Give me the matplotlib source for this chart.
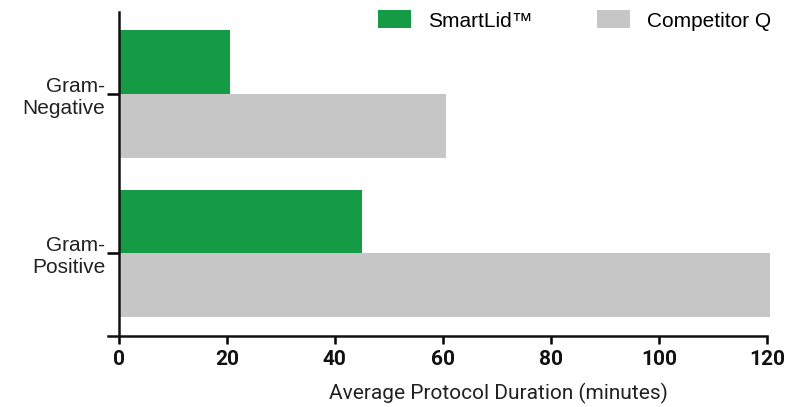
import matplotlib.pyplot as plt
import numpy as np

# data
categories = ['Gram-\nNegative', 'Gram-\nPositive']
smartlid = [20.5, 45]
competitor = [60.5, 120.5]
series_names = ['SmartLid\u2122', 'Competitor Q']
xticks = [0, 20, 40, 60, 80, 100, 120]

green = '#159A46'
grey = '#C6C6C6'

fig = plt.figure(figsize=(7.89, 4.07), dpi=100)
ax = fig.add_axes([0.137, 0.174, 0.835, 0.797])

pos = np.arange(len(categories))
bar_h = 0.4
ax.barh(pos - bar_h / 2, smartlid, height=bar_h, color=green, label=series_names[0], clip_on=False)
ax.barh(pos + bar_h / 2, competitor, height=bar_h, color=grey, label=series_names[1], clip_on=False)

ax.set_xlim(-2, 120)
ax.set_ylim(1.52, -0.515)

# spines: left axis sits at x=0, x axis runs a bit past it
for side in ['top', 'right']:
    ax.spines[side].set_visible(False)
ax.spines['left'].set_position(('data', 0))
ax.spines['left'].set_linewidth(1.8)
ax.spines['bottom'].set_linewidth(1.8)
ax.spines['left'].set_color('#111111')
ax.spines['bottom'].set_color('#111111')

ax.set_yticks(pos)
ax.set_yticklabels(categories, fontsize=15, family='Liberation Sans', color='#222222')
ax.set_xticks(xticks)
ax.set_xticklabels([str(t) for t in xticks], fontsize=15, family='Roboto',
                   fontweight='bold', color='#111111')
ax.tick_params(axis='y', length=9, width=1.8, pad=1)
ax.tick_params(axis='x', length=6, width=1.8, pad=4)

ax.set_xlabel('Average Protocol Duration (minutes)', fontsize=15, family='Roboto',
              color='#222222', va='center')
ax.xaxis.set_label_coords(0.592, -0.176)

leg = ax.legend(loc='upper right', bbox_to_anchor=(1.035, 1.062), ncol=2, frameon=False,
                prop={'family': 'Liberation Sans', 'size': 15}, handlelength=1.6,
                handleheight=0.95, columnspacing=3.1, handletextpad=0.8)

fig.savefig('out.png', dpi=100)
